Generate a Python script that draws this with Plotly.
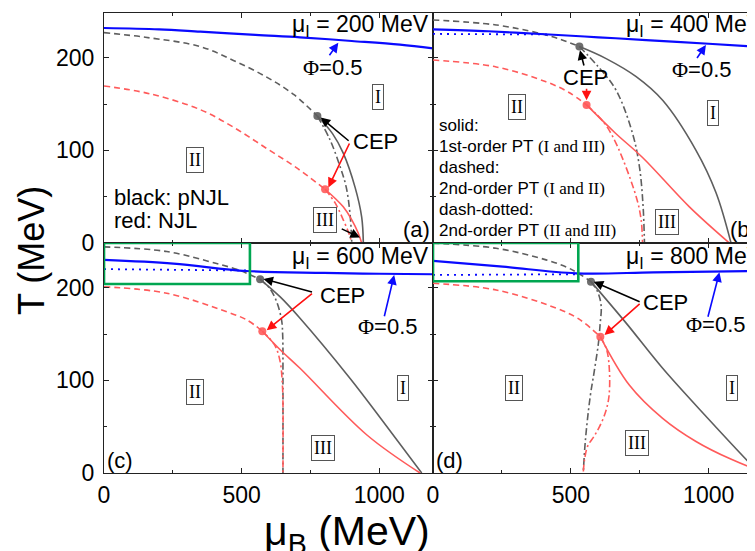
import plotly.graph_objects as go

# ---------------- data (mu_B in MeV, T in MeV) ----------------
# panel (a): mu_I = 200 MeV
blue_a_mu = [0, 200, 350, 550, 712, 900, 1075, 1195]
blue_a_T = [232, 230.5, 228, 224.5, 222, 218, 214, 210]
gdash_a_mu = [0, 150, 349, 470, 591, 690, 775]
gdash_a_T = [227, 222, 212, 197, 179, 160, 137]
gsolid_a_mu = [775, 830, 869, 912, 936, 942]
gsolid_a_T = [137, 118, 97, 60, 28, 0]
gdd_a_mu = [775, 820, 858, 880, 894, 900]
gdd_a_T = [137, 112, 82, 60, 30, 0]
rdash_a_mu = [0, 167, 349, 470, 591, 700, 803]
rdash_a_T = [169.5, 161, 144, 125, 102, 81, 58]
rsolid_a_mu = [803, 840, 869, 900, 923, 936]
rsolid_a_T = [58, 48, 39, 25, 11, 0]
rdd_a_mu = [803, 840, 869, 890, 900]
rdd_a_T = [58, 43, 25, 10, 0]
cep_a_mu = [775, 803]
cep_a_T = [137, 58]

# panel (b): mu_I = 400 MeV
blue_b_mu = [0, 200, 422, 600, 773, 1000, 1168]
blue_b_T = [230.5, 228.5, 225, 222, 219, 215, 212]
bdot_b_mu = [0, 422]
bdot_b_T = [225.6, 225]
gdash_b_mu = [0, 229, 386, 460, 531]
gdash_b_T = [240.7, 235.3, 226.3, 220, 212]
gsolid_b_mu = [531, 628, 737, 833, 954, 1027, 1081]
gsolid_b_T = [212, 199, 179.5, 154, 100, 54, 0]
gdd_b_mu = [531, 600, 664, 724, 749, 762, 767]
gdd_b_T = [212, 190, 165, 118, 82, 40, 0]
rdash_b_mu = [0, 229, 410, 490, 557]
rdash_b_T = [197.5, 190, 174, 163, 149]
rsolid_b_mu = [557, 660, 761, 930, 1075]
rsolid_b_T = [149, 119, 92, 39, 0]
rdd_b_mu = [557, 620, 664, 737, 755, 760]
rdd_b_T = [149, 130, 107.6, 50, 25, 0]
cep_b_mu = [531, 557]
cep_b_T = [212, 149]

# panel (c): mu_I = 600 MeV
blue_c_mu = [0, 252, 518, 800, 1000, 1195]
blue_c_T = [230, 226, 218, 216, 215, 214.5]
bdot_c_mu = [0, 518]
bdot_c_T = [220, 218.5]
gdash_c_mu = [0, 228, 409, 490, 567]
gdash_c_T = [244, 239, 226, 219, 209]
gsolid_c_mu = [567, 640, 712, 894, 1015, 1154]
gsolid_c_T = [209, 190, 167, 102, 55, 0]
gdd_c_mu = [567, 600, 627, 645, 649, 650, 650]
gdd_c_T = [209, 200, 185, 165, 149, 100, 0]
rdash_c_mu = [0, 228, 446, 520, 575]
rdash_c_T = [201, 194, 174, 165, 153]
rsolid_c_mu = [575, 640, 712, 955, 1148]
rsolid_c_T = [153, 133, 113, 41, 0]
rdd_c_mu = [575, 620, 640, 648, 650, 650]
rdd_c_T = [153, 138, 120, 95, 77, 0]
cep_c_mu = [567, 575]
cep_c_T = [209, 153]

# panel (d): mu_I = 800 MeV
blue_d_mu = [0, 253, 519, 800, 1168]
blue_d_T = [229, 222.7, 215.5, 216.5, 218]
bdot_d_mu = [0, 519]
bdot_d_T = [213.7, 214.5]
gdash_d_mu = [0, 229, 410, 500, 573]
gdash_d_T = [248, 242.5, 230, 220, 206.5]
gsolid_d_mu = [573, 700, 833, 1000, 1166, 1182]
gsolid_d_T = [206.5, 162, 113, 58, 5, 0]
gdd_d_mu = [573, 598, 610, 606, 600, 585, 570, 553, 545]
gdd_d_T = [206.5, 195, 180, 160, 140, 110, 82, 36, 0]
rdash_d_mu = [0, 229, 446, 530, 607]
rdash_d_T = [204.7, 197.5, 178, 166, 147]
rsolid_d_mu = [607, 712, 833, 954, 1080, 1166, 1200]
rsolid_d_T = [147, 95, 59, 34, 15, 5, 3]
rdd_d_mu = [607, 630, 640, 638, 625, 604, 585, 561, 550, 545]
rdd_d_T = [147, 133, 110, 82, 65, 50, 40, 29, 15, 0]
cep_d_mu = [573, 607]
cep_d_T = [206.5, 147]

x_ticks = [0, 500, 1000]
y_ticks = [0, 100, 200]
mu_I_labels = ["200", "400", "600", "800"]
panel_tags = ["(a)", "(b)", "(c)", "(d)"]

# ---------------- styles ----------------
BLUE = "#0a0aff"
GRAY = "#5e5e5e"
RED = "#ff5a5a"
ARROW_RED = "#ff1010"
SANS = "Liberation Sans, Arial, sans-serif"
SERIF = "Liberation Serif"

fig = go.Figure()


def add_line(mu, T, xa, ya, color, width, dash="solid", shape="spline"):
    fig.add_trace(go.Scatter(x=mu, y=T, xaxis=xa, yaxis=ya, mode="lines",
                             line=dict(color=color, width=width, dash=dash, shape=shape),
                             showlegend=False, hoverinfo="skip"))


DASH = "6px,4px"
DASHDOT = "7px,3px,2px,3px"
DOT = "2px,5px"

panels = [
    dict(xa="x", ya="y", blue=(blue_a_mu, blue_a_T), bdot=None,
         gdash=(gdash_a_mu, gdash_a_T), gsolid=(gsolid_a_mu, gsolid_a_T), gdd=(gdd_a_mu, gdd_a_T),
         rdash=(rdash_a_mu, rdash_a_T), rsolid=(rsolid_a_mu, rsolid_a_T), rdd=(rdd_a_mu, rdd_a_T),
         cep=(cep_a_mu, cep_a_T)),
    dict(xa="x2", ya="y2", blue=(blue_b_mu, blue_b_T), bdot=(bdot_b_mu, bdot_b_T),
         gdash=(gdash_b_mu, gdash_b_T), gsolid=(gsolid_b_mu, gsolid_b_T), gdd=(gdd_b_mu, gdd_b_T),
         rdash=(rdash_b_mu, rdash_b_T), rsolid=(rsolid_b_mu, rsolid_b_T), rdd=(rdd_b_mu, rdd_b_T),
         cep=(cep_b_mu, cep_b_T)),
    dict(xa="x3", ya="y3", blue=(blue_c_mu, blue_c_T), bdot=(bdot_c_mu, bdot_c_T),
         gdash=(gdash_c_mu, gdash_c_T), gsolid=(gsolid_c_mu, gsolid_c_T), gdd=(gdd_c_mu, gdd_c_T),
         rdash=(rdash_c_mu, rdash_c_T), rsolid=(rsolid_c_mu, rsolid_c_T), rdd=(rdd_c_mu, rdd_c_T),
         cep=(cep_c_mu, cep_c_T)),
    dict(xa="x4", ya="y4", blue=(blue_d_mu, blue_d_T), bdot=(bdot_d_mu, bdot_d_T),
         gdash=(gdash_d_mu, gdash_d_T), gsolid=(gsolid_d_mu, gsolid_d_T), gdd=(gdd_d_mu, gdd_d_T),
         rdash=(rdash_d_mu, rdash_d_T), rsolid=(rsolid_d_mu, rsolid_d_T), rdd=(rdd_d_mu, rdd_d_T),
         cep=(cep_d_mu, cep_d_T)),
]

for p in panels:
    xa, ya = p["xa"], p["ya"]
    add_line(*p["gdash"], xa, ya, GRAY, 1.6, DASH)
    add_line(*p["gdd"], xa, ya, GRAY, 1.6, DASHDOT)
    add_line(*p["gsolid"], xa, ya, GRAY, 1.6)
    add_line(*p["rdash"], xa, ya, RED, 1.6, DASH)
    add_line(*p["rdd"], xa, ya, RED, 1.6, DASHDOT)
    add_line(*p["rsolid"], xa, ya, RED, 1.6)
    if p["bdot"] is not None:
        add_line(*p["bdot"], xa, ya, BLUE, 1.8, DOT, shape="linear")
    add_line(*p["blue"], xa, ya, BLUE, 2.2)
    cm, cT = p["cep"]
    fig.add_trace(go.Scatter(x=cm, y=cT, xaxis=xa, yaxis=ya, mode="markers",
                             marker=dict(size=8, color=[GRAY, RED], opacity=0.9),
                             showlegend=False, hoverinfo="skip"))

# ---------------- axes ----------------
# the page body adds an 8px offset; the figure is sized so the plot lands where the reference has it
OFF = 8
W, H = 755 - OFF, 551 - OFF
ML, MR, MT, MB = 104 - OFF, 0, 13 - OFF, 78
pw = W - ML - MR
ph = H - MT - MB
split = 329 / pw

axis_base = dict(showline=True, linecolor="#222", linewidth=1.1, showgrid=False, zeroline=False,
                 ticks="inside", ticklen=5, tickwidth=1, tickcolor="#222",
                 tickfont=dict(family=SANS, size=23, color="black"))

xcommon = dict(axis_base, tickmode="array", tickvals=x_ticks, ticktext=[str(v) for v in x_ticks],
               mirror="ticks", minor=dict(tickvals=[250, 750], ticks="inside", ticklen=3, tickcolor="#222"))
ycommon = dict(axis_base, tickmode="array", tickvals=y_ticks, ticktext=[str(v) for v in y_ticks],
               minor=dict(tickvals=[50, 150], ticks="inside", ticklen=3, tickcolor="#222"))

YR = [0, 248.2]
fig.update_layout(
    xaxis=dict(xcommon, domain=[0, split], anchor="y", range=[0, 1195], showticklabels=False),
    xaxis2=dict(xcommon, domain=[split, 1], anchor="y2", range=[0, 1168], showticklabels=False),
    xaxis3=dict(xcommon, domain=[0, split], anchor="y3", range=[0, 1195], ticklabelstandoff=1),
    xaxis4=dict(xcommon, domain=[split, 1], anchor="y4", range=[0, 1168], ticklabelstandoff=1),
    yaxis=dict(ycommon, domain=[0.5, 1], anchor="x", range=YR, mirror="ticks", ticklabelstandoff=4),
    yaxis2=dict(ycommon, domain=[0.5, 1], anchor="x2", range=YR, showticklabels=False),
    yaxis3=dict(ycommon, domain=[0, 0.5], anchor="x3", range=YR, mirror="ticks", ticklabelstandoff=4),
    yaxis4=dict(ycommon, domain=[0, 0.5], anchor="x4", range=YR, showticklabels=False),
    width=W, height=H, margin=dict(l=ML, r=MR, t=MT, b=MB),
    paper_bgcolor="white", plot_bgcolor="white", showlegend=False,
)

# green boxes (c) and (d)
fig.add_shape(type="rect", xref="x3", yref="y3", x0=0, x1=530, y0=204, y1=248.2,
              line=dict(color="#00a651", width=2.6))
fig.add_shape(type="rect", xref="x4", yref="y4", x0=0, x1=527, y0=207, y1=248.2,
              line=dict(color="#00a651", width=2.6))

ann = []


def text(x, y, s, xr, yr, size=22, xanchor="center", yanchor="middle", family=SANS, **kw):
    ann.append(dict(x=x, y=y, xref=xr, yref=yr, text=s, showarrow=False, xanchor=xanchor,
                    yanchor=yanchor, font=dict(family=family, size=size, color="black"), **kw))


def arrow(x0, y0, x1, y1, xr, yr, color="black"):
    ann.append(dict(x=x1, y=y1, ax=x0, ay=y0, xref=xr, yref=yr, axref=xr, ayref=yr, text="",
                    showarrow=True, arrowhead=2, arrowsize=1.2, arrowwidth=1.6, arrowcolor=color))


def box(x, y, s, xr, yr):
    ann.append(dict(x=x, y=y, xref=xr, yref=yr, text=s, showarrow=False,
                    font=dict(family=SERIF, size=18, color="black"),
                    bordercolor="#555", borderwidth=1, borderpad=2, bgcolor="white"))


PHI = '<span style="font-family:Liberation Serif">Φ</span>=0.5'
MUI = "μ<sub>I</sub> = %s MeV"

# (a)
text(1188, 235, MUI % mu_I_labels[0], "x", "y", size=23, xanchor="right")
text(830, 189, PHI, "x", "y")
arrow(815, 201, 851, 216, "x", "y", BLUE)
text(986, 110, "CEP", "x", "y")
arrow(894, 109, 787, 135.5, "x", "y")
arrow(894, 109, 815, 60, "x", "y", ARROW_RED)
arrow(858, 16, 930, 6, "x", "y")
box(996, 158, "I", "x", "y")
box(331, 90, "II", "x", "y")
box(803, 25, "III", "x", "y")
text(30, 49, "black: pNJL", "x", "y", xanchor="left")
text(30, 24, "red: NJL", "x", "y", xanchor="left")
text(1190, 15, panel_tags[0], "x", "y", xanchor="right")

# (b)
text(692, 235, MUI % mu_I_labels[1], "x2", "y2", size=23, xanchor="left")
text(975, 187, PHI, "x2", "y2")
arrow(954, 198, 990, 213.7, "x2", "y2", BLUE)
text(552, 179, "CEP", "x2", "y2")
arrow(549, 190, 533, 208, "x2", "y2")
arrow(557, 168, 557, 154, "x2", "y2", ARROW_RED)
box(306, 147, "II", "x2", "y2")
box(1017, 140, "I", "x2", "y2")
box(850, 23, "III", "x2", "y2")
text(1070, 15, panel_tags[1], "x2", "y2", xanchor="left")
legend_lines = [
    "solid:",
    '1st-order PT <span style="font-family:Liberation Serif">(I and III)</span>',
    "dashed:",
    '2nd-order PT <span style="font-family:Liberation Serif">(I and II)</span>',
    "dash-dotted:",
    '2nd-order PT <span style="font-family:Liberation Serif">(II and III)</span>',
]
legend_T = [127, 104, 82, 59, 36, 14]
for s, t in zip(legend_lines, legend_T):
    text(14, t, s, "x2", "y2", size=17, xanchor="left")

# (c)
text(1188, 233, MUI % mu_I_labels[2], "x3", "y3", size=23, xanchor="right")
text(1030, 158, PHI, "x3", "y3")
arrow(1017, 167.6, 1054, 213.7, "x3", "y3", BLUE)
text(867, 192, "CEP", "x3", "y3")
arrow(761, 195, 579, 209.4, "x3", "y3")
arrow(761, 195, 591, 154, "x3", "y3", ARROW_RED)
box(331, 87, "II", "x3", "y3")
box(1086, 92, "I", "x3", "y3")
box(796, 27, "III", "x3", "y3")
text(2, 14, panel_tags[2], "x3", "y3", xanchor="left")

# (d)
text(693, 233, MUI % mu_I_labels[3], "x4", "y4", size=23, xanchor="left")
text(1027, 160, PHI, "x4", "y4")
arrow(996, 167, 1039, 216.6, "x4", "y4", BLUE)
text(845, 184, "CEP", "x4", "y4")
arrow(755, 184, 583, 206.5, "x4", "y4")
arrow(755, 184, 622, 149, "x4", "y4", ARROW_RED)
box(295, 92, "II", "x4", "y4")
box(1083, 92, "I", "x4", "y4")
box(741, 32, "III", "x4", "y4")
text(5, 14, panel_tags[3], "x4", "y4", xanchor="left")

# axis titles (positions given in page pixels, converted to paper fractions)
def paper_x(px):
    return (px - OFF - ML) / pw


def paper_y(py):
    return (H - MB - (py - OFF)) / ph


ann.append(dict(x=paper_x(31), y=paper_y(251), xref="paper", yref="paper", text="T (MeV)",
                showarrow=False, textangle=-90, xanchor="center", yanchor="middle",
                font=dict(family=SANS, size=36, color="black")))
ann.append(dict(x=paper_x(347), y=paper_y(534), xref="paper", yref="paper",
                text="μ<sub>B</sub> (MeV)", showarrow=False, xanchor="center", yanchor="middle",
                font=dict(family=SANS, size=41, color="black")))

fig.update_layout(annotations=ann)
fig.write_html("out.html")
